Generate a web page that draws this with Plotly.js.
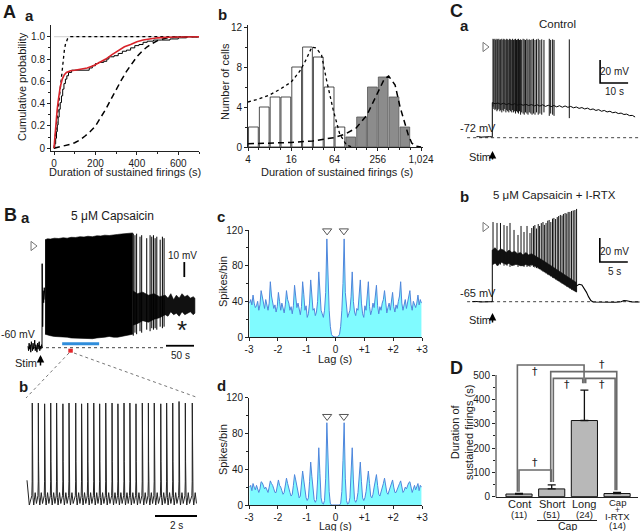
<!DOCTYPE html>
<html><head><meta charset="utf-8">
<script src="https://cdn.plot.ly/plotly-3.0.1.min.js"></script>
<style>html,body{margin:0;padding:0;background:#fff}#chart{width:640px;height:531px}</style>
</head><body><div id="chart"></div>
<script>
// ================= DATA =================
// --- A a: cumulative probability of sustained-firing duration ---
const aaStepDur = [0,4,8,12,16,20,25,30,36,42,48,55,62,70,85,170,185,200,215,240,255,265,290,310,330,350,370,390,410,430,450,480,520,560,600,640,700];
const aaStepCum = [0,0.04,0.09,0.15,0.21,0.28,0.35,0.41,0.47,0.53,0.58,0.62,0.65,0.68,0.70,0.72,0.74,0.76,0.77,0.78,0.80,0.82,0.83,0.85,0.87,0.88,0.90,0.92,0.93,0.95,0.96,0.97,0.97,0.98,0.99,1.0,1.0];
const aaFitDur = [0,5,10,15,20,25,30,40,50,60,70,80,100,130,160,190,220,250,280,310,340,370,400,430,460,500,550,600,650,700];
const aaFitCum = [0,0.13,0.25,0.34,0.42,0.49,0.55,0.62,0.66,0.68,0.69,0.695,0.70,0.71,0.72,0.74,0.77,0.80,0.84,0.875,0.91,0.93,0.955,0.97,0.98,0.99,0.995,0.998,0.999,1.0];
const aaShortDur = [0,5,10,15,20,25,30,35,40,45,50,55,60,65,70,80,100,700];
const aaShortCum = [0,0.09,0.18,0.27,0.36,0.46,0.55,0.65,0.73,0.81,0.88,0.93,0.96,0.98,0.99,1,1,1];
const aaLongDur = [0,25,50,75,100,125,150,175,200,225,250,275,300,325,350,375,400,425,450,475,500,525,550,600,650,700];
const aaLongCum = [0,0.01,0.02,0.035,0.05,0.075,0.11,0.15,0.2,0.27,0.35,0.44,0.53,0.61,0.69,0.76,0.82,0.87,0.91,0.94,0.965,0.98,0.99,0.997,1,1];
const aaTickVals = [0,0.2,0.4,0.6,0.8,1];
const aaTickText = ['0','0.2','0.4','0.6','0.8','1.0'];

// --- A b: histogram (log2 of duration) ---
const abBinLog2Short = [2.25,2.75,3.25,3.75,4.25,4.75,5.25,5.75,6.25];
const abCountShort = [2,4,5,5,8,10,9,6,2];
const abBinLog2Long = [6.75,7.25,7.75,8.25,8.75,9.25];
const abCountLong = [1,3,6,7,5,2];
const abShortFitLog2 = [2,2.5,3,3.5,4,4.4,4.7,4.95,5.15,5.4,5.63,5.94,6.24,6.55,6.8];
const abShortFitN = [4.5,4.8,5.2,5.8,6.5,7.6,8.8,10,9.9,9.2,6.7,3.7,1.3,0.2,0];
const abLongFitLog2 = [2,3,4,5,5.5,6,6.5,7,7.5,7.95,8.3,8.5,8.8,9.03,9.26,9.41,9.57,9.75,10];
const abLongFitN = [0.33,0.38,0.45,0.6,0.75,0.95,1.3,1.9,3.2,5.2,6.8,7.1,6.2,4.0,2.2,1.2,0.4,0.1,0];
const abTickLog2 = [2,4,6,8,10];
const abTickLabels = ['4','16','64','256','1,024'];

// --- B a: capsaicin recording (s, mV) ---
const baPreT = [-25,-24,-23,-22,-21,-20,-19,-18,-17,-16,-15,-14,-13,-12,-11,-10,-9,-8,-7,-6,-5,-4,-3,-2,-1,0];
const baPreMv = [-59,-62,-57,-61,-58,-63,-56,-60,-62,-57,-61,-59,-55,-62,-58,-60,-63,-57,-61,-58,-56,-62,-59,-61,-58,-60];
const baOnsetT = [0,0.3,1.2,2,3,4,5.5];
const baOnsetMv = [-60,-4,-46,-22,-30,-20,-28];
const baDenseT = [5.5,10,15,22,30,38,45,52,60,68,75,82,90,98,105,112,120,128,135,142,150,156,162];
const baDenseTop = [12,12.6,12.4,13,12.8,13.3,13,13.6,13.5,14,13.8,14.3,14,14.6,14.5,15,14.8,15.4,15.5,15.8,16,16.3,16.5];
const baDenseBottom = [-51,-51.5,-52,-52.5,-52.5,-53,-53,-53.5,-53.5,-54,-54,-54,-54,-53.5,-53,-53,-52.5,-53,-53,-52.5,-52,-51.5,-51];
const baLateSpikeT = [163,166,169,175,178,187,193,196,199,202,205,211,215,218];
const baLateSpikeTop = [16,15,16,14,15,13,15,14,15,13,14,12,14,13];
const baLateSpikeBottom = [-52,-50,-51,-49,-50,-48,-49,-47,-48,-47,-48,-46,-47,-46];
const baBandT = [162,170,180,190,200,210,220,225,230,235,240,245,250,255,260,265,270,273];
const baBandTop = [-22,-24,-23,-25,-24,-26,-25,-27,-24,-28,-25,-27,-24,-26,-25,-27,-26,-27];
const baBandBottom = [-45,-44,-42,-43,-41,-40,-38,-39,-36,-38,-37,-39,-36,-38,-37,-36,-38,-37];
const baRestMv = -60;
const baWindowT = [36,102];      // correlogram window (blue bar)
const baZoomT = [47,55];         // expanded segment (red mark)

// --- B b: expanded segment ---
const bbLeadT = [0,0.11];
const bbLeadMv = [-37,-53];
const bbSpikeT = [0.25,0.54,0.84,1.13,1.41,1.71,2.0,2.32,2.6,2.89,3.18,3.46,3.75,4.05,4.33,4.62,4.9,5.19,5.49,5.78,6.06,6.37,6.65,6.94,7.24,7.54,7.87];
const bbSpikePeakMv = [13,13,12.5,13,13,12.5,13,13,12.5,13,13,12.5,13,13,12.5,13,13,12.5,13,13,13,12.5,13,13,14,13,13];
const bbWaveDt = [-0.02,-0.004,0,0.012,0.035,0.07,0.14,0.2];
const bbWaveMv = [-47,-38,13,-25,-48,-53,-45,-52];

// --- B c / B d: autocorrelograms (spikes/bin, 0.04 s bins from -3 to +3 s) ---
const ccgBinWidth = 0.04;
const bcCounts = [38,42,36,47,38,33,35,40,30,36,52,44,38,32,42,35,30,38,62,46,40,32,36,28,34,50,40,30,38,33,27,36,52,42,38,30,34,26,35,58,45,33,38,30,25,34,62,48,30,35,22,26,38,64,45,30,32,24,28,40,73,45,30,26,22,30,50,110,60,30,12,3,1,0,0,
  0,0,1,3,12,30,60,110,50,30,22,26,30,45,73,40,28,24,32,30,45,64,38,26,22,35,30,48,62,34,25,30,38,33,45,58,35,26,34,30,38,42,52,36,27,33,38,30,40,50,34,28,36,32,40,46,62,38,30,35,42,32,38,44,52,36,30,40,35,33,38,47,36,42,38];
const bdCounts = [20,22,16,24,20,17,22,18,14,18,26,25,22,18,20,16,14,20,27,24,22,18,14,14,20,28,22,20,16,12,14,22,30,24,18,14,10,12,22,34,28,20,12,8,10,24,38,28,15,8,5,8,26,48,32,14,6,3,6,28,64,35,8,2,1,5,30,92,50,15,2,0,0,0,0,
  0,0,0,0,2,15,50,92,30,5,1,2,8,35,64,28,6,3,6,14,32,48,26,8,5,8,15,28,38,24,10,8,12,20,28,34,22,12,10,14,18,24,30,22,14,12,16,20,22,28,20,14,14,18,22,24,27,20,14,16,20,18,22,25,26,18,14,18,22,17,20,24,16,22,20];
const ccgPeakLag = [-0.29,0.29];
const ccgTickVals = [-3,-2,-1,0,1,2,3];
const ccgTickText = ['-3','-2','-1','0','+1','+2','+3'];

// --- C a: control recording ---
const caRestMv = -72;
const caPreT = [-5.7,-5,-4,-3,-2,-1,0,0];
const caPreMv = [-71.3,-71,-71.5,-71.2,-71.4,-71.1,-71.3,-41.5];
const caBaseT = [0,1,2,3,4,5,6,7,8,9,10,11,12,13,14,15,16,17,18,19,20,21,22,23,24,25,26,27,28,29,30,31,32,33,34,35,36,37,38,39,40,41,42,43,44,45,46,47,48,49,50,51];
const caBaseMv = [-41.5,-42.5,-41.8,-43,-42,-43.2,-42.3,-43.5,-42.5,-43.6,-42.8,-43.8,-43,-44,-43.2,-44.3,-43.4,-44.5,-43.4,-44.8,-43.8,-45,-44,-45.2,-44.2,-45.5,-44.4,-45.6,-44.8,-46,-45.3,-46.5,-45.8,-47,-46.3,-47.6,-47,-48.3,-47.6,-49,-48.3,-49.6,-49,-50.3,-49.8,-51,-50.6,-51.8,-51.5,-52.8,-52.6,-54];
const caSpikeT = [0.25,0.55,0.95,1.25,1.65,1.95,2.35,2.7,3.0,3.4,3.8,4.1,4.45,4.85,5.15,5.5,5.9,6.2,6.55,6.95,7.25,7.6,8.0,8.3,8.65,9.05,9.35,9.7,10.1,10.5,11.0,11.4,11.85,12.35,12.75,13.2,13.75,14.2,14.7,15.25,15.8,16.4,17.0,17.65,18.45,20.35,20.85,21.55,22.05,27.5];
const caSpikeTop = [14,13.5,14,13,14,13.5,14,13,13.5,14,13,14,13.5,13,14,13.5,13,14,13.5,13,14,13,13.5,14,13,13.5,14,13,13.5,13,14,13.5,13,14,13,13.5,13,13.5,14,13,13.5,14,13,13.5,13,14,13,13.5,13,13.5];
const caSpikeBottom = [-45,-47,-48,-47,-49,-48,-47,-49,-48,-50,-48,-49,-47,-50,-48,-49,-50,-48,-49,-50,-48,-50,-49,-51,-49,-50,-51,-49,-52,-50,-51,-52,-50,-51,-52,-50,-51,-52,-51,-52,-50,-52,-51,-52,-50,-53,-51,-52,-53,-55];

// --- C b: capsaicin + I-RTX ---
const cbRestMv = -65;
const cbPreT = [-3.6,-3,-2,-1,0,0];
const cbPreMv = [-65,-64.8,-65.2,-64.9,-65,-22];
const cbBandT = [0,0.5,1,1.5,2,2.5,3,3.5,4,4.5,5,5.5,6,6.5,7,8,9,10,11,12,13,14,15];
const cbBandTop = [-22,-20,-23,-21,-22,-24,-22,-24,-23,-25,-24,-26,-24,-26,-25,-27.5,-30.5,-33.5,-36.5,-39.5,-43,-46,-49];
const cbBandBottom = [-34,-33,-35,-32,-33,-34,-33,-35,-34,-34,-35,-35,-34,-35,-34,-36,-39,-42,-45,-48,-51,-54,-57];
const cbTailT = [15,15.5,16,16.3,16.8,17.2,17.6,18,19,20,21,22,23,23.5,24,24.5,25,26.3];
const cbTailMv = [-52,-50.5,-51,-53,-57,-61,-64,-65.2,-65.4,-65.5,-65.3,-65.4,-65,-64,-64.2,-65,-65.3,-65.2];
const cbSpikeT = [0.13,0.84,1.46,2.09,2.63,3.16,3.88,4.59,5.13,5.66,6.2,6.73,7.05,7.35,7.6,7.9,8.2,8.45,8.75,9.05,9.3,9.6,9.9,10.15,10.45,10.75,11.0,11.3,11.6,11.85,12.15,12.45,12.7,13.0,13.3,13.55,13.85,14.15,14.45,14.75,15.05];
const cbSpikeTop = [1.4,0.6,0.6,-1.1,-1.9,0.6,-5.2,-9.4,-1.9,-6.9,-1.9,-7.8,-3.6,-2,-1.1,-4,-0.3,-1.9,0.5,1.4,-1,0.6,2.5,3.1,1.4,4.2,4.8,3.9,5.5,6.4,7.3,6.8,8.1,8.9,8.5,9.8,9.8,10.6,11,11.4,12.3];
const cbSpikeBottom = [-34,-35,-34,-35,-35,-36,-35,-36,-35,-36,-36,-36,-35,-36,-36.5,-37,-37.5,-38,-39,-40,-40.5,-41.5,-42.5,-43,-44,-45,-45.5,-46.5,-47.5,-48,-49,-50,-50.5,-51.5,-52.5,-53,-54,-55,-55.5,-56,-57];

// --- D: mean duration of sustained firing ---
const dGroupLines = [['Cont'],['Short'],['Long'],['Cap','+','I-RTX']];
const dGroupN = ['(11)','(51)','(24)','(14)'];
const dMeanDur = [11,32,313,13];
const dSemDur = [3,17,125,5];
const dTickVals = [0,100,200,300,400,500];
// significance brackets: x from, x to, top, left leg end, right leg end
const dSigX0 = [0,-0.05,0.97,1.05,2.04];
const dSigX1 = [0.99,1.99,2.99,1.95,2.94];
const dSigTop = [110,541,514,486,486];
const dSigLeft = [20,20,60,60,466];
const dSigRight = [60,466,27,466,27];
const dSigMarkX = [0.49,0.49,2.53,1.46,2.53];
const dSigMarkY = [140,513,545,459,459];

// ================= DRAWING =================
const FONT = 'Liberation Sans, Arial, Helvetica, sans-serif';
const W = 640, H = 531;
const PX = x => x / W, PY = y => 1 - y / H;
const xdom = (a, b) => [a / W, b / W];
const ydom = (top, bot) => [1 - bot / H, 1 - top / H];
const INK = '#1a1a1a';

const traces = [];
function add(xa, ya, x, y, opts) {
  traces.push(Object.assign({type:'scatter', mode:'lines', x:x, y:y, xaxis:xa, yaxis:ya,
    hoverinfo:'skip', showlegend:false, line:{color:'#000', width:1}}, opts || {}));
}
function segments(times, bottoms, tops) {
  const x = [], y = [];
  times.forEach((t, i) => { x.push(t, t, null); y.push(bottoms[i], tops[i], null); });
  return {x, y};
}
function envelope(t, top, bottom) {
  return {x: t.concat(t.slice().reverse()), y: top.concat(bottom.slice().reverse())};
}

// A a
add('x','y',[0,700],[1,1],{line:{color:'#cfcfcf',width:1}});
add('x','y',aaLongDur,aaLongCum,{line:{color:'#000',width:1.5,dash:'6px,4px'}});
add('x','y',aaShortDur,aaShortCum,{line:{color:'#000',width:1.3,dash:'dot'}});
add('x','y',aaStepDur,aaStepCum,{line:{color:'#000',width:1,shape:'hv'}});
add('x','y',aaFitDur,aaFitCum,{line:{color:'#d8232a',width:1.6}});

// A b
traces.push({type:'bar', x:abBinLog2Short, y:abCountShort, width:0.45, xaxis:'x2', yaxis:'y2',
  marker:{color:'#ffffff', line:{color:'#222', width:0.8}}, hoverinfo:'skip'});
traces.push({type:'bar', x:abBinLog2Long, y:abCountLong, width:0.45, xaxis:'x2', yaxis:'y2',
  marker:{color:'#8c8c8c', line:{color:'#555', width:0.8}}, hoverinfo:'skip'});
add('x2','y2',abShortFitLog2,abShortFitN,{line:{color:'#000',width:1.3,dash:'dot'}});
add('x2','y2',abLongFitLog2,abLongFitN,{line:{color:'#000',width:1.5,dash:'6px,4px'}});

// B a
add('x3','y3',[baPreT[0], 220],[baRestMv,baRestMv],{line:{color:'#444',width:1,dash:'dot'}});
add('x3','y3',baPreT,baPreMv,{line:{color:'#000',width:1}});
add('x3','y3',baOnsetT,baOnsetMv,{line:{color:'#000',width:1}});
(function(){
  const e1 = envelope(baDenseT, baDenseTop, baDenseBottom);
  add('x3','y3',e1.x,e1.y,{fill:'toself',fillcolor:'#000',line:{color:'#000',width:0.6}});
  const e2 = envelope(baBandT, baBandTop, baBandBottom);
  add('x3','y3',e2.x,e2.y,{fill:'toself',fillcolor:'#111',line:{color:'#000',width:0.6}});
  const s = segments(baLateSpikeT, baLateSpikeBottom, baLateSpikeTop);
  add('x3','y3',s.x,s.y,{line:{color:'#000',width:1}});
})();
add('x3','y3',baWindowT,[-57.3,-57.3],{line:{color:'#2f8ddb',width:3}});
add('x3','y3',baZoomT,[-62,-62],{line:{color:'#e3262b',width:4}});
add('x3','y3',[254.1,254.1],[-12.9,-2.9],{line:{color:'#000',width:1.8}});
add('x3','y3',[221.4,271.4],[-58.7,-58.7],{line:{color:'#000',width:1.8}});
add('x3','y3',[-16],[7.8],{mode:'markers',marker:{symbol:'triangle-right-open',size:8,color:'#777',line:{width:1}},cliponaxis:false});

// B b
(function(){
  const x = bbLeadT.slice(), y = bbLeadMv.slice();
  bbSpikeT.forEach((t, i) => {
    bbWaveDt.forEach((d, j) => { x.push(t + d); y.push(j === 2 ? bbSpikePeakMv[i] : bbWaveMv[j]); });
  });
  add('x4','y4',x,y,{line:{color:'#222',width:1}});
})();
add('x4','y4',[6.095,8.095],[-60.1,-60.1],{line:{color:'#000',width:1.8}});

// B c / B d
const ccgLag = bcCounts.map((_, i) => -3 + ccgBinWidth * (i + 0.5));
add('x5','y5',ccgLag,bcCounts,{fill:'tozeroy',fillcolor:'#80fbff',line:{color:'#4f86dc',width:1}});
add('x6','y6',ccgLag,bdCounts,{fill:'tozeroy',fillcolor:'#80fbff',line:{color:'#4f86dc',width:1}});
add('x5','y5',ccgPeakLag,[119,119],{mode:'markers',marker:{symbol:'triangle-down-open',size:8,color:'#555',line:{width:1}},cliponaxis:false});
add('x6','y6',ccgPeakLag,[99,99],{mode:'markers',marker:{symbol:'triangle-down-open',size:8,color:'#555',line:{width:1}},cliponaxis:false});

// C a
add('x7','y7',[-9,52.75],[caRestMv,caRestMv],{line:{color:'#444',width:1,dash:'dot'}});
add('x7','y7',caPreT,caPreMv,{line:{color:'#000',width:1}});
add('x7','y7',caBaseT,caBaseMv,{line:{color:'#000',width:1}});
(function(){
  const s = segments(caSpikeT, caSpikeBottom, caSpikeTop);
  add('x7','y7',s.x,s.y,{line:{color:'#111',width:1}});
})();
add('x7','y7',[38.5,38.5,48.5],[-4.4,-24.4,-24.4],{line:{color:'#000',width:1.6}});
add('x7','y7',[-2.6],[6.9],{mode:'markers',marker:{symbol:'triangle-right-open',size:8,color:'#777',line:{width:1}},cliponaxis:false});

// C b
add('x8','y8',[-4.5,26.375],[cbRestMv,cbRestMv],{line:{color:'#444',width:1,dash:'dot'}});
add('x8','y8',cbPreT,cbPreMv,{line:{color:'#000',width:1}});
(function(){
  const e = envelope(cbBandT, cbBandTop, cbBandBottom);
  add('x8','y8',e.x,e.y,{fill:'toself',fillcolor:'#111',line:{color:'#000',width:0.6}});
  const s = segments(cbSpikeT, cbSpikeBottom, cbSpikeTop);
  add('x8','y8',s.x,s.y,{line:{color:'#111',width:1}});
})();
add('x8','y8',cbTailT,cbTailMv,{line:{color:'#000',width:1.1}});
add('x8','y8',[19.2,19.2,24.2],[-11.9,-31.9,-31.9],{line:{color:'#000',width:1.6}});
add('x8','y8',[-1.3],[-2.75],{mode:'markers',marker:{symbol:'triangle-right-open',size:8,color:'#777',line:{width:1}},cliponaxis:false});

// D
traces.push({type:'bar', x:[0,1,2,3], y:dMeanDur, width:0.8, xaxis:'x9', yaxis:'y9', hoverinfo:'skip',
  marker:{color:'#b8b8b8', line:{color:'#111', width:1}},
  error_y:{type:'data', symmetric:false, array:dSemDur, arrayminus:[0,0,0,0], color:'#111', thickness:1.3, width:4}});
dSigX0.forEach((x0, i) => {
  add('x9','y9',[x0,x0,dSigX1[i],dSigX1[i]],[dSigLeft[i],dSigTop[i],dSigTop[i],dSigRight[i]],
    {line:{color:'#6a6a6a',width:1.6}});
});

// ---------- axes ----------
const tickFont = {family:FONT, size:10, color:INK};
const minorTicks = o => Object.assign({ticklen:2, ticks:'outside', tickcolor:'#222'}, o);
const axBase = {showgrid:false, zeroline:false, showline:true, linecolor:'#222', linewidth:1,
  ticks:'outside', ticklen:3, tickwidth:1, tickcolor:'#222', tickfont:tickFont, fixedrange:true};
const hidden = (dom, range, anchor) => ({domain:dom, range:range, anchor:anchor, visible:false, fixedrange:true});

const layout = {
  width: W, height: H, margin:{l:0,r:0,t:0,b:0}, paper_bgcolor:'#fff', plot_bgcolor:'rgba(0,0,0,0)',
  showlegend:false, barmode:'overlay', font:{family:FONT, color:INK},
  xaxis: Object.assign({}, axBase, {domain:xdom(51,199), range:[-14.5,700], anchor:'y',
    tickvals:[0,200,400,600], minor:minorTicks({tickvals:[100,300,500,700]})}),
  yaxis: Object.assign({}, axBase, {domain:ydom(25,150.5), range:[-0.0197,1.105], anchor:'x',
    tickvals:aaTickVals, ticktext:aaTickText, minor:minorTicks({tickvals:[0.1,0.3,0.5,0.7,0.9]})}),
  xaxis2: Object.assign({}, axBase, {domain:xdom(248,423), range:[2,10.09], anchor:'y2',
    tickvals:abTickLog2, ticktext:abTickLabels, minor:minorTicks({tickmode:'linear', tick0:2, dtick:0.5})}),
  yaxis2: Object.assign({}, axBase, {domain:ydom(24.5,147), range:[0,12.25], anchor:'x2',
    tickvals:[0,4,8,12], minor:minorTicks({tickvals:[2,6,10]})}),
  xaxis3: hidden(xdom(20,200), [-39.29,282.14], 'y3'),
  yaxis3: hidden(ydom(228,356), [-65.53,19.8], 'x3'),
  xaxis4: hidden(xdom(25,200), [-0.095,8.238], 'y4'),
  yaxis4: hidden(ydom(395,520), [-62.7,18.2], 'x4'),
  xaxis5: Object.assign({}, axBase, {domain:xdom(249,422), range:[-3,3], anchor:'y5', tickvals:ccgTickVals, ticktext:ccgTickText}),
  yaxis5: Object.assign({}, axBase, {domain:ydom(230,337), range:[0,120], anchor:'x5', tickvals:[0,40,80,120],
    minor:minorTicks({tickvals:[20,60,100]})}),
  xaxis6: Object.assign({}, axBase, {domain:xdom(249,422), range:[-3,3], anchor:'y6', tickvals:ccgTickVals, ticktext:ccgTickText}),
  yaxis6: Object.assign({}, axBase, {domain:ydom(397.7,505), range:[0,120], anchor:'x6', tickvals:[0,40,80,120],
    minor:minorTicks({tickvals:[20,60,100]})}),
  xaxis7: hidden(xdom(465,640), [-9.75,52.75], 'y7'),
  yaxis7: hidden(ydom(30,145), [-78.35,21.65], 'x7'),
  xaxis8: hidden(xdom(465,640), [-4.875,26.375], 'y8'),
  yaxis8: hidden(ydom(205,310), [-71.92,15.58], 'x8'),
  xaxis9: Object.assign({}, axBase, {domain:xdom(496,638), range:[-0.704,3.64], anchor:'y9', ticks:'', showticklabels:false}),
  yaxis9: Object.assign({}, axBase, {domain:ydom(360,497), range:[-1.2,561.6], anchor:'x9', showline:false,
    tickvals:dTickVals, minor:minorTicks({tickvals:[50,150,250,350,450]})}),
  shapes: [
    {type:'line', xref:'paper', yref:'paper', x0:PX(496), x1:PX(496), y0:PY(497.3), y1:PY(375), line:{color:'#222', width:1}},
    {type:'line', xref:'paper', yref:'paper', x0:PX(69), y0:PY(353), x1:PX(26), y1:PY(398), line:{color:'#777', width:1, dash:'dot'}},
    {type:'line', xref:'paper', yref:'paper', x0:PX(74), y0:PY(353), x1:PX(196), y1:PY(397), line:{color:'#777', width:1, dash:'dot'}},
    {type:'line', xref:'paper', yref:'paper', x0:PX(537), y0:PY(520.5), x1:PX(597), y1:PY(520.5), line:{color:'#222', width:1}}
  ],
  annotations: []
};

function T(text, x, y, size, opts) {
  layout.annotations.push(Object.assign({xref:'paper', yref:'paper', x:PX(x), y:PY(y), text:text, showarrow:false,
    xanchor:'center', yanchor:'middle', font:{family:FONT, size:size, color:INK}}, opts || {}));
}
function arrow(x, yHead, len) {
  layout.annotations.push({xref:'paper', yref:'paper', x:PX(x), y:PY(yHead), ax:0, ay:len, text:'',
    showarrow:true, arrowhead:2, arrowsize:1, arrowwidth:1.5, arrowcolor:'#000'});
}

// panel letters
T('<b>A</b>', 9, 12, 18); T('<b>a</b>', 29, 16, 15);
T('<b>b</b>', 222, 14, 15);
T('<b>B</b>', 10, 215, 18); T('<b>a</b>', 25, 217, 15);
T('<b>b</b>', 23, 386, 15);
T('<b>c</b>', 221, 216, 15);
T('<b>d</b>', 221, 385, 15);
T('<b>C</b>', 456, 11, 18); T('<b>a</b>', 464, 25, 15);
T('<b>b</b>', 464, 196, 15);
T('<b>D</b>', 456, 368, 18);

// axis titles
T('Cumulative probability', 22, 87, 11, {textangle:-90});
T('Duration of sustained firings (s)', 125, 172, 11);
T('Number of cells', 225, 82, 11, {textangle:-90});
T('Duration of sustained firings (s)', 337, 172, 11);
T('Spikes/bin', 223, 282, 11, {textangle:-90});
T('Lag (s)', 335, 359, 11);
T('Spikes/bin', 223, 450, 11, {textangle:-90});
T('Lag (s)', 335, 526.3, 10.5);
T('Duration of<br>sustained firings (s)', 462, 433, 11, {textangle:-90});

// B a / B b labels
T('5 μM Capsaicin', 112, 216, 12);
T('-60 mV', 18, 334, 10.5);
T('10 mV', 182, 255, 10);
T('50 s', 180, 355, 10);
T('Stim', 26, 363, 11);
arrow(40.5, 355, 12);
T('*', 182, 330, 26);
T('2 s', 176, 525, 10);

// C labels
T('Control', 557, 24, 11.5);
T('-72 mV', 478, 128, 11);
T('20 mV', 614, 71, 10);
T('10 s', 614, 91, 10);
T('Stim', 480, 157, 11);
arrow(492.5, 151, 10);
T('5 μM Capsaicin + I-RTX', 554, 195, 11.5);
T('-65 mV', 478, 293, 11);
T('20 mV', 614, 251, 10);
T('5 s', 614, 271, 10);
T('Stim', 480, 320, 11);
arrow(492.5, 313, 11);

// D labels
const dLineY = [[504],[504],[504],[502.5,509.5,516.5]];
dGroupLines.forEach((lines, i) => {
  lines.forEach((txt, k) => {
    layout.annotations.push({xref:'x9', yref:'paper', x:i, y:PY(dLineY[i][k]), text:txt, showarrow:false,
      xanchor:'center', yanchor:'middle', font:{family:FONT, size:lines.length > 1 ? (txt === '+' ? 8.5 : 9.5) : 11, color:INK}});
  });
  layout.annotations.push({xref:'x9', yref:'paper', x:i, y:PY(lines.length > 1 ? 525 : 514), text:dGroupN[i], showarrow:false,
    xanchor:'center', yanchor:'middle', font:{family:FONT, size:9.5, color:INK}});
});
T('Cap', 567, 525.5, 10.5);
dSigMarkX.forEach((x, i) => {
  layout.annotations.push({xref:'x9', yref:'y9', x:x, y:dSigMarkY[i], text:'†', showarrow:false,
    xanchor:'center', yanchor:'middle', font:{family:'DejaVu Sans, sans-serif', size:11, color:'#222'}});
});

Plotly.newPlot('chart', traces, layout, {staticPlot:true, displayModeBar:false});
</script>
</body></html>
